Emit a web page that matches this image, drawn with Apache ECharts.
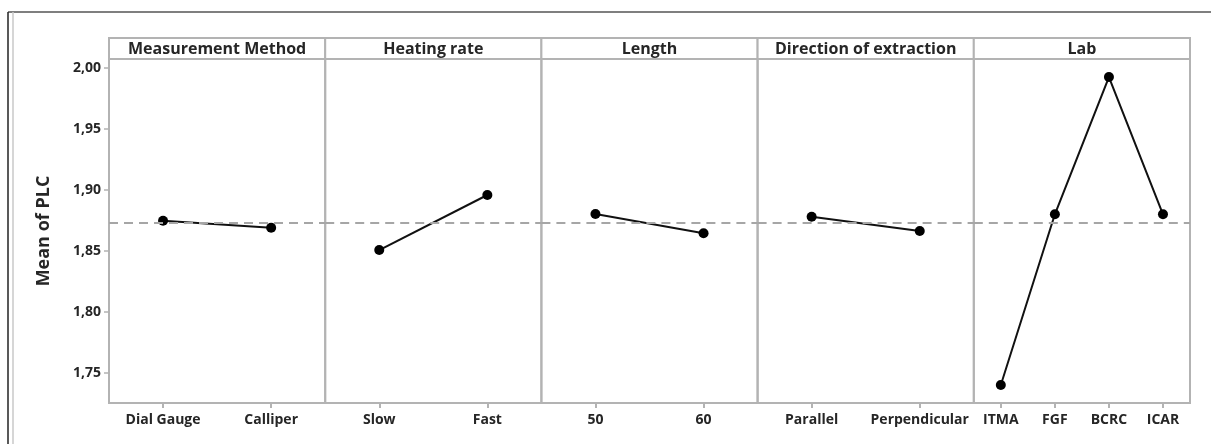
<!DOCTYPE html>
<html>
<head>
<meta charset="utf-8">
<script src="https://cdn.jsdelivr.net/npm/echarts@6/dist/echarts.min.js"></script>
<style>
  html, body { margin: 0; padding: 0; background: #fff; }
  #chart { width: 1211px; height: 444px; }
</style>
</head>
<body>
<div id="chart"></div>
<script>
// Main effects plot for PLC: one panel per factor
const factors = ['Measurement Method', 'Heating rate', 'Length', 'Direction of extraction', 'Lab'];
const measurementLevels = ['Dial Gauge', 'Calliper'];
const measurementMeans = [1.8748, 1.8691];
const heatingLevels = ['Slow', 'Fast'];
const heatingMeans = [1.8508, 1.8959];
const lengthLevels = ['50', '60'];
const lengthMeans = [1.8803, 1.8645];
const directionLevels = ['Parallel', 'Perpendicular'];
const directionMeans = [1.8781, 1.8664];
const labLevels = ['ITMA', 'FGF', 'BCRC', 'ICAR'];
const labMeans = [1.7402, 1.8801, 1.9926, 1.8801];
const grandMean = 1.8734;
const yTicks = [1.75, 1.80, 1.85, 1.90, 1.95, 2.00];
const yMin = 1.7254, yMax = 2.0074;

const levels = [measurementLevels, heatingLevels, lengthLevels, directionLevels, labLevels];
const means = [measurementMeans, heatingMeans, lengthMeans, directionMeans, labMeans];

// layout of the panel row
const plotLeft = 109, plotRight = 1190, plotTop = 59, plotBottom = 403;
const headerTop = 38;
const W = 1211, H = 444;
const panelW = (plotRight - plotLeft) / factors.length;
const frameColor = '#b3b3b3';
const textColor = '#262626';
const fontFamily = '"Open Sans", "Noto Sans", sans-serif';

const grids = [], xAxes = [], yAxes = [], series = [], graphics = [];

factors.forEach((name, i) => {
  const left = plotLeft + i * panelW;
  grids.push({
    left: left, width: panelW, top: plotTop, bottom: H - plotBottom,
    show: true, borderColor: frameColor, borderWidth: 2, backgroundColor: 'transparent'
  });
  xAxes.push({
    type: 'category', gridIndex: i, data: levels[i], boundaryGap: true,
    axisLine: { show: false },
    axisTick: { show: true, alignWithLabel: true, length: 5, lineStyle: { color: frameColor, width: 2 } },
    axisLabel: { color: textColor, fontSize: 14, fontWeight: 700, fontFamily: fontFamily, margin: 10, interval: 0 },
    splitLine: { show: false }
  });
  yAxes.push({
    type: 'value', gridIndex: i, min: yMin, max: yMax,
    axisLine: { show: false },
    axisTick: { show: i === 0, length: 5, customValues: yTicks, lineStyle: { color: frameColor, width: 1.5 } },
    axisLabel: {
      show: i === 0, customValues: yTicks, color: textColor, fontSize: 14, fontWeight: 700,
      fontFamily: fontFamily, margin: 8,
      formatter: v => v.toFixed(2).replace('.', ',')
    },
    splitLine: { show: false },
    name: i === 0 ? 'Mean of PLC' : '',
    nameLocation: 'middle', nameGap: 56, nameRotate: 90,
    nameTextStyle: { color: textColor, fontSize: 18, fontWeight: 700, fontFamily: fontFamily }
  });
  series.push({
    type: 'line', xAxisIndex: i, yAxisIndex: i, data: means[i],
    symbol: 'circle', symbolSize: 10,
    itemStyle: { color: '#000' },
    lineStyle: { color: '#111', width: 2 },
    markLine: {
      silent: true, symbol: 'none', precision: 4, label: { show: false },
      lineStyle: { color: '#a6a6a6', type: [9, 6], width: 2 },
      data: [{ yAxis: grandMean }]
    },
    z: 3
  });
  // header strip with the factor name
  graphics.push({
    type: 'rect', shape: { x: left, y: headerTop, width: panelW, height: plotTop - headerTop },
    style: { fill: '#fff', stroke: frameColor, lineWidth: 2 }
  });
  graphics.push({
    type: 'text', x: left + panelW / 2, y: (headerTop + plotTop) / 2 + 1,
    style: { text: name, fill: textColor, font: '700 16px ' + fontFamily, align: 'center', verticalAlign: 'middle' }
  });
});

// figure frame
graphics.push({ type: 'line', shape: { x1: 8, y1: 12, x2: W, y2: 12 }, style: { stroke: '#555', lineWidth: 1.5 } });
graphics.push({ type: 'line', shape: { x1: 8, y1: 12, x2: 8, y2: H }, style: { stroke: '#222', lineWidth: 1.5 } });
graphics.push({ type: 'line', shape: { x1: 13, y1: 12, x2: 13, y2: H }, style: { stroke: '#c8c8c8', lineWidth: 1.5 } });

const chart = echarts.init(document.getElementById('chart'), null, { renderer: 'canvas' });
chart.setOption({
  animation: false,
  backgroundColor: '#fff',
  grid: grids, xAxis: xAxes, yAxis: yAxes, series: series,
  graphic: graphics
});
</script>
</body>
</html>
